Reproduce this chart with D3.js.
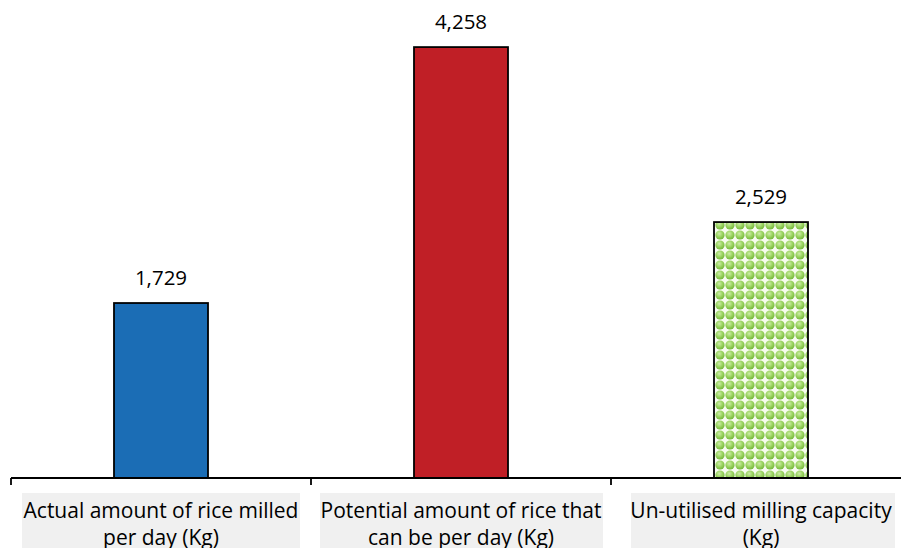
<!DOCTYPE html>
<html>
<head>
<meta charset="utf-8">
<script src="https://cdn.jsdelivr.net/npm/d3@7"></script>
<style>
  html, body { margin: 0; padding: 0; background: #fff; }
  svg { display: block; }
</style>
</head>
<body>
<svg id="chart" width="901" height="548"></svg>
<script>
// Rice milling: actual vs potential output per day
const categories = [
  ["Actual amount of rice milled", "per day (Kg)"],
  ["Potential amount of rice that", "can be per day (Kg)"],
  ["Un-utilised milling capacity", "(Kg)"]
];
const values = [1729, 4258, 2529];
const fills = ["#1b6db5", "#c01f26", "url(#greenDots)"];

const svg = d3.select("#chart");
const axisY = 478, topY = 22.6;
const font = "'Open Sans', Lato, sans-serif";

// Dotted green fill for the third bar
const defs = svg.append("defs");
const pat = defs.append("pattern")
  .attr("id", "greenDots")
  .attr("patternUnits", "userSpaceOnUse")
  .attr("x", 715).attr("y", 0)
  .attr("width", 10).attr("height", 10);
pat.append("rect").attr("width", 10).attr("height", 10).attr("fill", "#f7fcf0");
const grad = defs.append("radialGradient").attr("id", "dotShade")
  .attr("cx", "42%").attr("cy", "35%").attr("r", "65%");
grad.append("stop").attr("offset", "0%").attr("stop-color", "#cdeca8");
grad.append("stop").attr("offset", "55%").attr("stop-color", "#9ad361");
grad.append("stop").attr("offset", "100%").attr("stop-color", "#74b83a");
pat.append("circle").attr("cx", 5).attr("cy", 5).attr("r", 4.6).attr("fill", "url(#dotShade)");

const x = d3.scaleBand()
  .domain(d3.range(categories.length))
  .range([11, 911])
  .padding(0);

const y = d3.scaleLinear()
  .domain([0, 4500])
  .range([axisY, topY]);

const barW = 94;
const cx = i => x(i) + x.bandwidth() / 2;

// Category label backgrounds
const labelBoxes = [[22, 300], [320, 603], [631, 895]];
svg.selectAll("rect.labelbg")
  .data(labelBoxes)
  .enter().append("rect")
  .attr("class", "labelbg")
  .attr("x", d => d[0])
  .attr("y", 493)
  .attr("width", d => d[1] - d[0])
  .attr("height", 60)
  .attr("fill", "#f0f0f0");

// Bars
svg.selectAll("rect.bar")
  .data(values)
  .enter().append("rect")
  .attr("class", "bar")
  .attr("x", (d, i) => cx(i) - barW / 2)
  .attr("y", d => y(d))
  .attr("width", barW)
  .attr("height", d => y(0) - y(d))
  .attr("fill", (d, i) => fills[i])
  .attr("stroke", "#000")
  .attr("stroke-width", 1.8);

// Value labels
const fmt = d3.format(",");
svg.selectAll("text.val")
  .data(values)
  .enter().append("text")
  .attr("class", "val")
  .attr("x", (d, i) => cx(i))
  .attr("y", d => y(d) - 18)
  .attr("text-anchor", "middle")
  .attr("font-family", font)
  .attr("font-size", 20.5)
  .attr("fill", "#000")
  .text(d => fmt(d));

// Category axis with ticks between categories
const axisG = svg.append("g").attr("transform", `translate(0,${axisY})`);
axisG.append("line")
  .attr("x1", 11).attr("x2", 901)
  .attr("stroke", "#000").attr("stroke-width", 1.8);
const tickXs = d3.range(categories.length + 1).map(i => 11 + i * x.bandwidth());
axisG.selectAll("line.tick")
  .data(tickXs)
  .enter().append("line")
  .attr("class", "tick")
  .attr("x1", d => d).attr("x2", d => d)
  .attr("y1", 0).attr("y2", 7)
  .attr("stroke", "#000").attr("stroke-width", 1.8);

// Category labels (two lines each)
const lab = svg.selectAll("text.cat")
  .data(categories)
  .enter().append("text")
  .attr("class", "cat")
  .attr("text-anchor", "middle")
  .attr("font-family", font)
  .attr("font-size", 21)
  .attr("fill", "#000");
lab.selectAll("tspan")
  .data((d, i) => d.map(t => ({ t, i })))
  .enter().append("tspan")
  .attr("x", d => cx(d.i))
  .attr("y", (d, j) => 518 + j * 27)
  .text(d => d.t);
</script>
</body>
</html>
